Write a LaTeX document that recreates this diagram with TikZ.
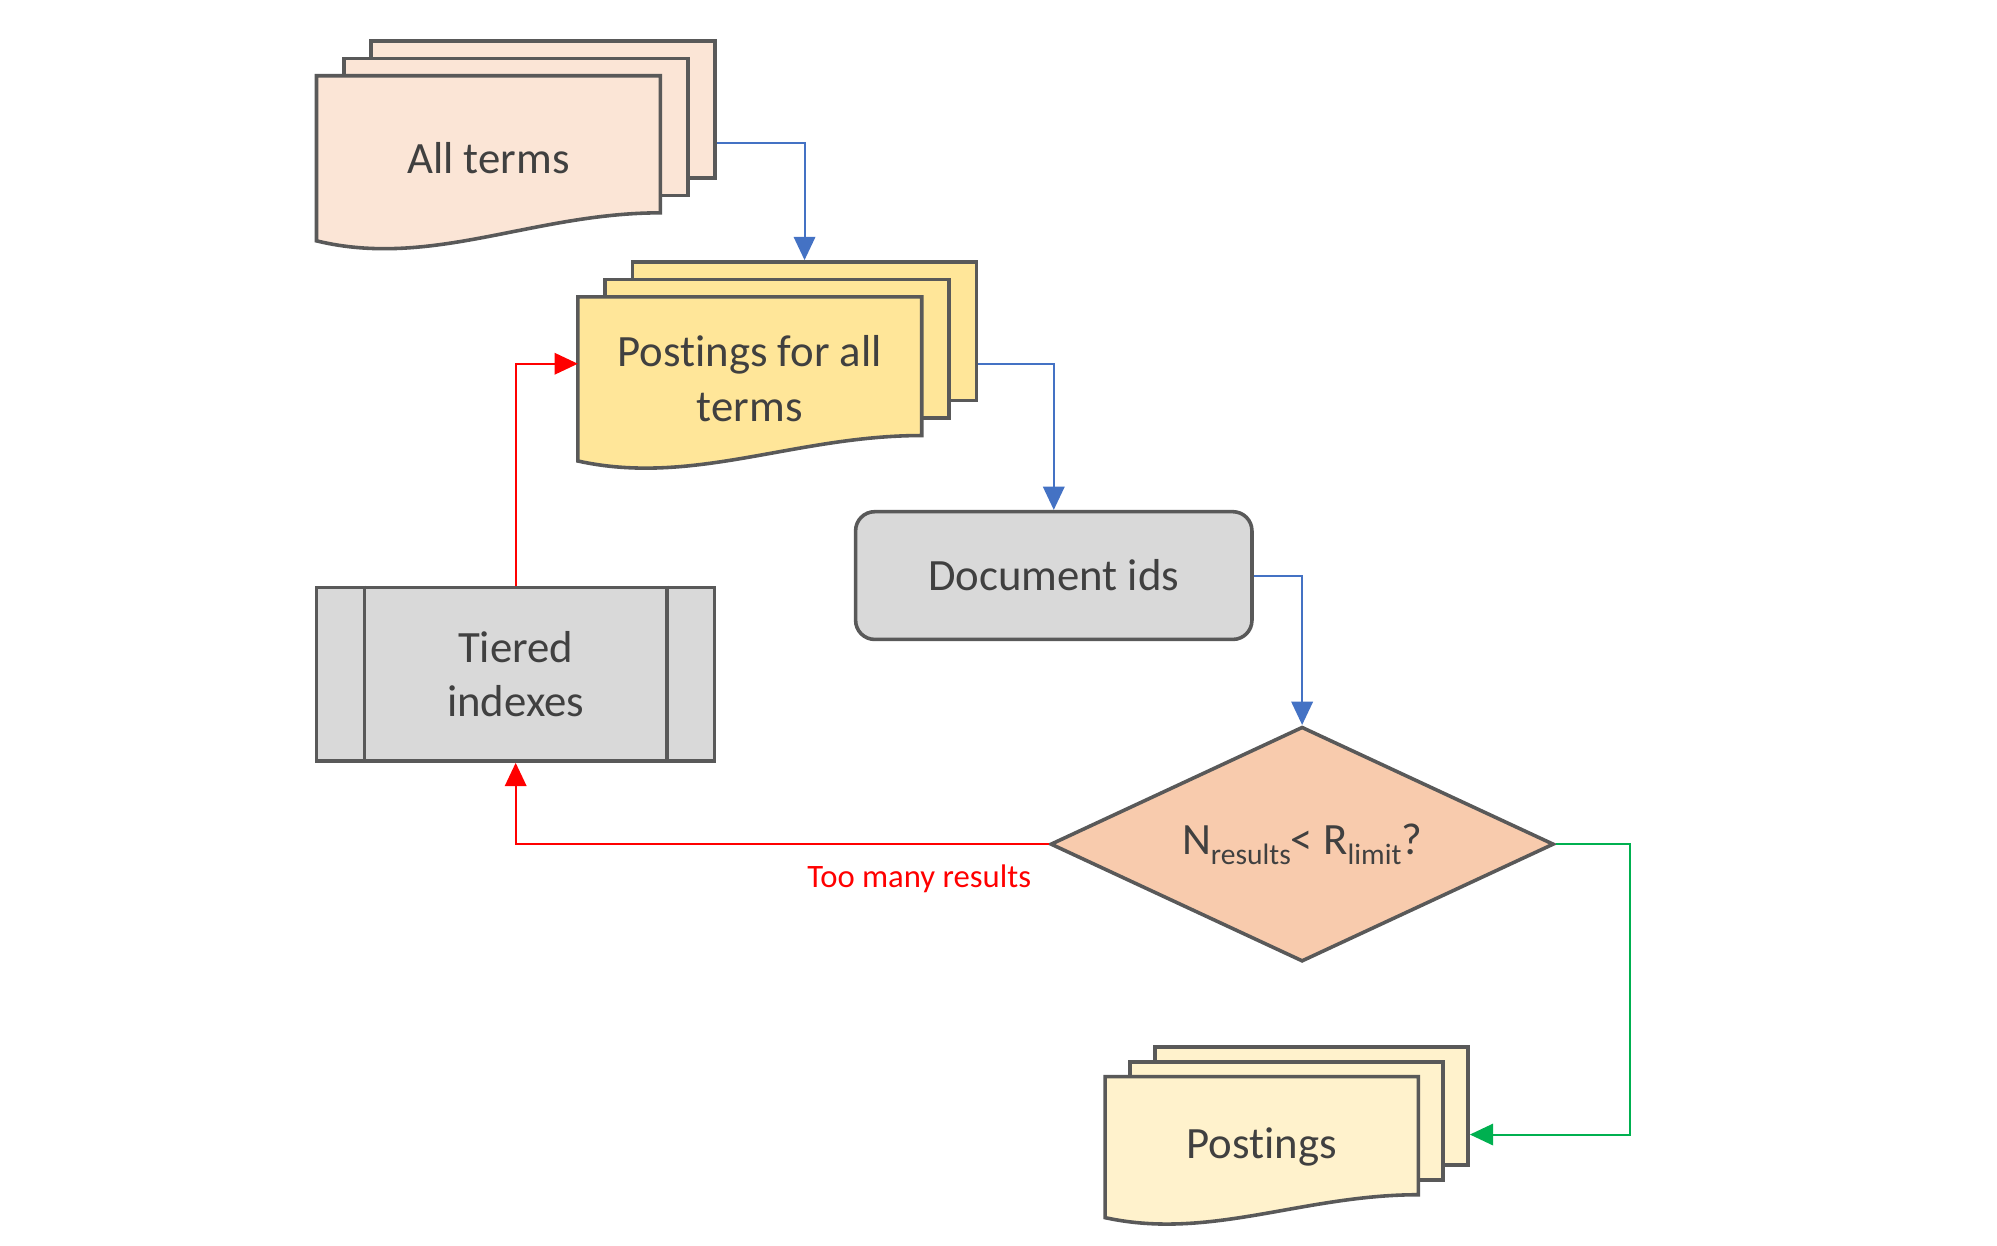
\documentclass[tikz,border=0pt]{standalone}
\usepackage{fontspec}
\setmainfont{Carlito}[Ligatures=NoCommon]
\usetikzlibrary{
    calc,
    arrows.meta,
    shapes.geometric,
    fit,
    backgrounds
}
\definecolor{edge}{HTML}{595959}
\definecolor{ink}{HTML}{404040}
\definecolor{termfill}{HTML}{FBE5D6}
\definecolor{postfill}{HTML}{FFE699}
\definecolor{greyfill}{HTML}{D9D9D9}
\definecolor{testfill}{HTML}{F8CBAD}
\definecolor{outfill}{HTML}{FFF2CC}
\definecolor{flowblue}{HTML}{4472C4}
\definecolor{flowred}{HTML}{FF0000}
\definecolor{flowgreen}{HTML}{00B050}
\tikzset{
  sheet/.style={
    draw=edge,
    line width=0.8pt
  },
  docfront/.style={
    rectangle,
    inner sep=0pt,
    text=ink,
    align=center,
    font=\fontsize{10}{12.2}\selectfont
  },
  box/.style={
    sheet,
    rectangle,
    inner sep=0pt,
    fill=greyfill,
    text=ink,
    align=center,
    font=\fontsize{10}{12.2}\selectfont
  },
  flow/.style={
    ->,
    line width=0.45pt
  },
  flowlabel/.style={
    inner sep=0pt,
    text=flowred,
    font=\fontsize{7.3}{9}\selectfont
  }
}

% 小さい添字
\newcommand{\lowtext}[1]{\raisebox{-2.2pt}{\fontsize{6.6}{8}\selectfont #1}}

% 文書の束 (名前, 位置, 色, ずれ, 波, 文字)
\newcommand{\docstack}[7][]{%
  \node[docfront,#1] (#2) at #3 {#7};
  \begin{scope}[on background layer]
    \foreach \k in {2,1} {
      \coordinate (#2-a\k) at ($(#2.north west)+\k*#5$);
      \coordinate (#2-b\k) at ($(#2.south east)+\k*#5+(0,#6)$);
      \node[sheet, fill=#4, inner sep=0pt, fit=(#2-a\k)(#2-b\k)] (#2-\k) {};
    }
    \filldraw[sheet, fill=#4] (#2.north west) -- (#2.north east) -- ($(#2.south east)+(0,#6)$)
      .. controls ($(#2.south west)!0.63!(#2.south east)+(0,#6)$)
      and ($(#2.south west)!0.335!(#2.south east)-(0,#6)$) .. (#2.south west) -- cycle;
  \end{scope}
  \path (#2-2.north east) -- (#2-2.east |- #2.south) coordinate[pos=0.5, yshift=-0.025cm] (#2-port);
}

\begin{document}
\begin{tikzpicture}[>={Triangle[length=5.2pt,width=4.8pt]}]
    \useasboundingbox (0,0) rectangle (15.68,-9.78);

    % 文書
    \docstack[minimum width=2.686cm,minimum height=1.282cm]{allterms}{(3.835,-1.243)}{termfill}{(0.215,0.137)}{0.22}{All terms}
    \docstack[minimum width=2.686cm,minimum height=1.275cm]{postall}{(5.887,-2.975)}{postfill}{(0.215,0.137)}{0.20}{Postings for all\\terms}
    \docstack[minimum width=2.446cm,minimum height=1.093cm]{postings}{(9.907,-9.007)}{outfill}{(0.195,0.117)}{0.18}{Postings}

    % 処理と判定
    \node[box, rounded corners=0.15cm, minimum width=3.112cm, minimum height=1.003cm] (docids) at (8.274,-4.519) {Document ids};
    \node[box, minimum width=3.125cm, minimum height=1.363cm] (tiered) at (4.049,-5.294) {Tiered\\indexes};
    \draw[sheet] ([xshift=0.39cm]tiered.north west) -- ([xshift=0.39cm]tiered.south west);
    \draw[sheet] ([xshift=-0.39cm]tiered.north east) -- ([xshift=-0.39cm]tiered.south east);
    \node[box, diamond, aspect=2.15, fill=testfill, minimum width=3.953cm, minimum height=1.844cm] (check) at (10.224,-6.628) {N\lowtext{results}< R\lowtext{limit}?};

    % 矢印
    \draw[flow, flowblue] (allterms-port) -| (postall-2.north);
    \draw[flow, flowblue] (postall-port) -| (docids.north);
    \draw[flow, flowblue] (docids.east) -| (check.north);
    \draw[flow, flowgreen] (check.east) -- ++(0.586,0) |- (postings-port);
    \draw[flow, flowred] (check.west) node[flowlabel, anchor=base east, xshift=-0.13cm, yshift=-0.34cm] (toomany) {Too many results} -| (tiered.south);
    \draw[flow, flowred] (tiered.north) |- (postall.west |- postall-port);
\end{tikzpicture}
\end{document}
